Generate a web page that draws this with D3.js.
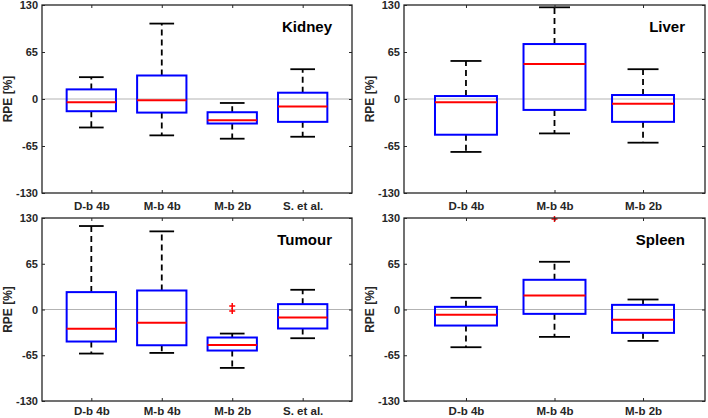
<!DOCTYPE html>
<html>
<head>
<meta charset="utf-8">
<script src="https://cdn.jsdelivr.net/npm/d3@7"></script>
<style>
  body { margin: 0; background: #fff; }
  svg { display: block; font-family: "Liberation Sans", Arial, sans-serif; }
  .tick text { fill: #262626; font-weight: bold; }
</style>
</head>
<body>
<div id="chart"></div>
<script>
// Box plot statistics (RPE in %)
const yTicks = [-130, -65, 0, 65, 130];

const kidneyCats = ['D-b 4b', 'M-b 4b', 'M-b 2b', 'S. et al.'];
const kidneyLow  = [-39.4, -50.3, -54.9, -52.2];
const kidneyQ1   = [-16.9, -18.8, -33.9, -31.6];
const kidneyMed  = [-4.6, -1.8, -29.3, -10.5];
const kidneyQ3   = [13.3, 32.5, -18.3, 8.7];
const kidneyHigh = [30.2, 104.3, -5.5, 41.2];
const kidneyOut  = [];

const liverCats = ['D-b 4b', 'M-b 4b', 'M-b 2b'];
const liverLow  = [-73.2, -47.6, -60.4];
const liverQ1   = [-49.4, -15.1, -31.6];
const liverMed  = [-4.6, 48.5, -6.4];
const liverQ3   = [4.1, 76.0, 5.5];
const liverHigh = [52.6, 126.8, 41.2];
const liverOut  = [];

const tumourCats = ['D-b 4b', 'M-b 4b', 'M-b 2b', 'S. et al.'];
const tumourLow  = [-62.6, -61.7, -83.0, -40.8];
const tumourQ1   = [-45.5, -50.8, -58.3, -27.0];
const tumourMed  = [-27.5, -19.0, -50.3, -11.4];
const tumourQ3   = [24.7, 27.0, -39.8, 7.6];
const tumourHigh = [118.6, 111.0, -34.2, 28.0];
const tumourOut  = [[3, 5], [3, -2]];

const spleenCats = ['D-b 4b', 'M-b 4b', 'M-b 2b'];
const spleenLow  = [-53.6, -38.9, -44.6];
const spleenQ1   = [-22.8, -6.2, -33.2];
const spleenMed  = [-7.6, 19.9, -14.7];
const spleenQ3   = [3.8, 42.2, 6.6];
const spleenHigh = [16.6, 67.8, 14.2];
const spleenOut  = [[2, 128.5]];

const W = 708, H = 418;
const svg = d3.select('#chart').append('svg').attr('width', W).attr('height', H);

const panels = [
    { title: 'Kidney', x0: 42, x1: 352, y0: 5, y1: 193, labelX: 12, pad: 9,
      cats: kidneyCats, low: kidneyLow, q1: kidneyQ1, med: kidneyMed, q3: kidneyQ3, high: kidneyHigh, out: kidneyOut },
    { title: 'Liver', x0: 404, x1: 705, y0: 5, y1: 193, labelX: 374, pad: 9,
      cats: liverCats, low: liverLow, q1: liverQ1, med: liverMed, q3: liverQ3, high: liverHigh, out: liverOut },
    { title: 'Tumour', x0: 42, x1: 352, y0: 218, y1: 401, labelX: 12, pad: 6,
      cats: tumourCats, low: tumourLow, q1: tumourQ1, med: tumourMed, q3: tumourQ3, high: tumourHigh, out: tumourOut },
    { title: 'Spleen', x0: 404, x1: 705, y0: 218, y1: 401, labelX: 374, pad: 6,
      cats: spleenCats, low: spleenLow, q1: spleenQ1, med: spleenMed, q3: spleenQ3, high: spleenHigh, out: spleenOut }
];

panels.forEach(drawPanel);

function drawPanel(p) {
    const n = p.cats.length;
    const x = d3.scaleLinear().domain([0.3, n + 0.7]).range([p.x0, p.x1]);
    const y = d3.scaleLinear().domain([-130, 130]).range([p.y1, p.y0]);
    const g = svg.append('g');
    const idx = d3.range(1, n + 1);
    const boxW = 0.7, capW = 0.35;

    // zero reference line
    g.append('line')
        .attr('x1', p.x0).attr('x2', p.x1)
        .attr('y1', y(0)).attr('y2', y(0))
        .attr('stroke', '#b3b3b3').attr('stroke-width', 1);

    const boxes = g.selectAll('.box').data(idx).enter().append('g').attr('class', 'box');

    // whiskers (dashed)
    boxes.append('line')
        .attr('x1', i => x(i)).attr('x2', i => x(i))
        .attr('y1', i => y(p.q3[i - 1])).attr('y2', i => y(p.high[i - 1]))
        .attr('stroke', '#000').attr('stroke-width', 1.8).attr('stroke-dasharray', '6,4');
    boxes.append('line')
        .attr('x1', i => x(i)).attr('x2', i => x(i))
        .attr('y1', i => y(p.q1[i - 1])).attr('y2', i => y(p.low[i - 1]))
        .attr('stroke', '#000').attr('stroke-width', 1.8).attr('stroke-dasharray', '6,4');

    // caps
    ['high', 'low'].forEach(k => {
        boxes.append('line')
            .attr('x1', i => x(i - capW / 2)).attr('x2', i => x(i + capW / 2))
            .attr('y1', i => y(p[k][i - 1])).attr('y2', i => y(p[k][i - 1]))
            .attr('stroke', '#000').attr('stroke-width', 1.8);
    });

    // boxes
    boxes.append('rect')
        .attr('x', i => x(i - boxW / 2))
        .attr('width', x(1 + boxW / 2) - x(1 - boxW / 2))
        .attr('y', i => y(p.q3[i - 1]))
        .attr('height', i => y(p.q1[i - 1]) - y(p.q3[i - 1]))
        .attr('fill', 'none').attr('stroke', '#0000ff').attr('stroke-width', 2);

    // medians
    boxes.append('line')
        .attr('x1', i => x(i - boxW / 2)).attr('x2', i => x(i + boxW / 2))
        .attr('y1', i => y(p.med[i - 1])).attr('y2', i => y(p.med[i - 1]))
        .attr('stroke', '#ff0000').attr('stroke-width', 2);

    // outliers as red plus signs
    g.selectAll('.out').data(p.out).enter().append('path')
        .attr('class', 'out')
        .attr('transform', d => `translate(${x(d[0])},${y(d[1])})`)
        .attr('d', 'M-3,0H3M0,-3V3')
        .attr('stroke', '#ff0000').attr('stroke-width', 1.5);

    // axes with inward ticks
    const yLeft = d3.axisLeft(y).tickValues(yTicks).tickSize(-3).tickPadding(4).tickFormat(d => String(d));
    g.append('g').attr('transform', `translate(${p.x0},0)`).call(yLeft)
        .call(a => a.select('.domain').remove())
        .call(a => a.selectAll('text').style('font-size', '11px'));
    g.append('g').attr('transform', `translate(${p.x1},0)`)
        .call(d3.axisRight(y).tickValues(yTicks).tickSize(-3).tickFormat(''))
        .call(a => a.select('.domain').remove());

    const xBottom = d3.axisBottom(x).tickValues(idx).tickSize(-3).tickPadding(p.pad).tickFormat(i => p.cats[i - 1]);
    g.append('g').attr('transform', `translate(0,${p.y1})`).call(xBottom)
        .call(a => a.select('.domain').remove())
        .call(a => a.selectAll('text').style('font-size', '11.5px'));
    g.append('g').attr('transform', `translate(0,${p.y0})`)
        .call(d3.axisTop(x).tickValues(idx).tickSize(-3).tickFormat(''))
        .call(a => a.select('.domain').remove());
    g.selectAll('.tick line').attr('stroke', '#262626');

    // frame
    g.append('rect')
        .attr('x', p.x0).attr('y', p.y0)
        .attr('width', p.x1 - p.x0).attr('height', p.y1 - p.y0)
        .attr('fill', 'none').attr('stroke', '#262626').attr('stroke-width', 1.3);

    // panel title
    g.append('text')
        .attr('x', p.x1 - 20).attr('y', p.y0 + 27)
        .attr('text-anchor', 'end')
        .style('font-size', '15px').style('font-weight', 'bold').attr('fill', '#000')
        .text(p.title);

    // y label
    g.append('text')
        .attr('transform', `translate(${p.labelX},${(p.y0 + p.y1) / 2}) rotate(-90)`)
        .attr('text-anchor', 'middle')
        .style('font-size', '12px').style('font-weight', 'bold').attr('fill', '#262626')
        .text('RPE [%]');
}
</script>
</body>
</html>
